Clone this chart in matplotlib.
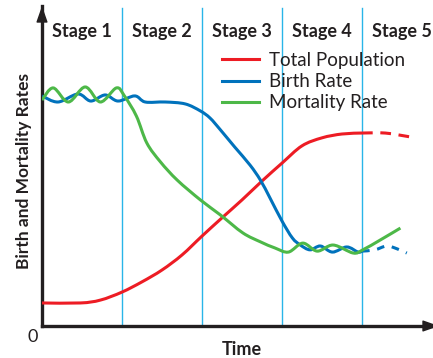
import numpy as np
import matplotlib
matplotlib.use("Agg")
import matplotlib.pyplot as plt
from matplotlib.path import Path
from matplotlib.patches import PathPatch
from matplotlib.lines import Line2D

# Demographic transition model (time in stage units, rates on a 0-100 scale)
stage_labels = ["Stage 1", "Stage 2", "Stage 3", "Stage 4", "Stage 5"]
stage_centers = [0.5, 1.5, 2.5, 3.5, 4.5]
stage_bounds = [1, 2, 3, 4]

pop_time = [0, 0.48, 0.73, 1.0, 1.25, 1.5, 1.75, 2.0, 2.25, 2.5, 2.75, 3.0, 3.25, 3.5, 3.75, 4.0]
pop_value = [7.2, 7.2, 8.1, 10.6, 13.8, 17.5, 22.2, 28.1, 33.8, 39.4, 45.3, 50.9, 56.3, 58.8, 60.0, 60.3]
pop_time_proj = [4.0, 4.29, 4.6]
pop_value_proj = [60.3, 60.3, 59.1]

birth_time = [0, 0.2, 0.45, 0.61, 0.79, 0.95, 1.16, 1.29, 1.54, 1.79, 1.98, 2.1, 2.23,
              2.41, 2.6, 2.73, 2.85, 3.0, 3.13, 3.23, 3.35, 3.48, 3.63, 3.81, 3.95, 4.0]
birth_value = [71.9, 70.0, 72.5, 70.3, 72.2, 70.3, 71.9, 70.0, 70.0, 69.4, 67.2, 65.0, 61.3,
               55.9, 50.3, 45.6, 40.0, 32.8, 27.5, 25.3, 23.8, 25.0, 23.1, 24.7, 23.1, 23.4]
birth_time_proj = [4.0, 4.16, 4.31, 4.44, 4.56]
birth_value_proj = [23.4, 23.8, 25.0, 24.1, 22.8]

death_time = [0, 0.14, 0.33, 0.54, 0.73, 0.93, 1.03, 1.18, 1.31, 1.48, 1.69, 1.98, 2.23,
              2.51, 2.73, 2.91, 3.08, 3.26, 3.44, 3.64, 3.89, 4.01, 4.23, 4.48]
death_value = [70.6, 74.4, 70.0, 74.7, 70.0, 74.4, 71.9, 65.6, 57.2, 51.3, 45.6, 39.4, 34.7,
               29.1, 26.3, 24.4, 23.1, 25.9, 23.4, 25.3, 22.8, 23.8, 26.9, 30.6]

RED = "#ED1C24"
BLUE = "#0072BC"
GREEN = "#4DB848"
CYAN = "#29B5E8"
INK = "#231F20"

plt.rcParams["font.family"] = ["Lato", "DejaVu Sans"]


def smooth_path(xs, ys):
    # Catmull-Rom through the points, written as cubic Bezier segments
    pts = np.column_stack([xs, ys]).astype(float)
    n = len(pts)
    verts = [pts[0]]
    codes = [Path.MOVETO]
    for i in range(n - 1):
        p0 = pts[max(i - 1, 0)]
        p1 = pts[i]
        p2 = pts[i + 1]
        p3 = pts[min(i + 2, n - 1)]
        verts += [p1 + (p2 - p0) / 6, p2 - (p3 - p1) / 6, p2]
        codes += [Path.CURVE4] * 3
    return Path(verts, codes)


def draw_curve(ax, xs, ys, color, dashes=None):
    patch = PathPatch(smooth_path(xs, ys), fill=False, edgecolor=color, lw=2.2,
                      joinstyle="round", capstyle="butt", zorder=3)
    if dashes is not None:
        patch.set_linestyle((0, dashes))
    ax.add_patch(patch)


fig = plt.figure(figsize=(4.33, 3.58), dpi=100)
ax = fig.add_axes([42 / 433, 32 / 358, (439 - 42) / 433, 320 / 358])
ax.set_xlim(0, (439 - 42) / 80)
ax.set_ylim(0, 100)
ax.set_xticks([])
ax.set_yticks([])
for side in ["top", "right"]:
    ax.spines[side].set_visible(False)
for side in ["left", "bottom"]:
    ax.spines[side].set_linewidth(2.4)
    ax.spines[side].set_color(INK)

# arrow heads on both axes
arrow = dict(arrowstyle="-|>,head_length=1.0,head_width=0.35", color=INK, lw=1,
             shrinkA=0, shrinkB=0, mutation_scale=10)
ax.annotate("", xy=(0, 1), xytext=(0, 0.95), xycoords="axes fraction", arrowprops=arrow)
ax.annotate("", xy=(1, 0), xytext=(0.95, 0), xycoords="axes fraction", arrowprops=arrow)

for b in stage_bounds:
    ax.axvline(b, ymin=0, ymax=0.995, color=CYAN, lw=1.0, zorder=1)

for x, label in zip(stage_centers, stage_labels):
    ax.text(x, 90.3, label, ha="center", va="baseline", fontsize=13,
            fontweight="bold", color=INK)

draw_curve(ax, pop_time, pop_value, RED)
draw_curve(ax, pop_time_proj, pop_value_proj, RED, dashes=(3.5, 2.5))
draw_curve(ax, birth_time, birth_value, BLUE)
draw_curve(ax, birth_time_proj, birth_value_proj, BLUE, dashes=(2.5, 2.5))
draw_curve(ax, death_time, death_value, GREEN)

handles = [Line2D([], [], color=c, lw=2.2) for c in (RED, BLUE, GREEN)]
ax.legend(handles, ["Total Population", "Birth Rate", "Mortality Rate"],
          loc="upper left", bbox_to_anchor=((222 - 42) / 397, (326 - 52) / 320),
          frameon=False, borderpad=0, borderaxespad=0, fontsize=13.5,
          handlelength=1.95, handletextpad=0.55, labelspacing=0.22, labelcolor=INK)

fig.text(24 / 433, 1 - 171 / 358, "Birth and Mortality Rates", rotation=90,
         ha="center", va="center", fontsize=12.5, fontweight="bold", color=INK)
fig.text(242 / 433, 1 - 355 / 358, "Time", ha="center", va="baseline",
         fontsize=13, fontweight="bold", color=INK)
fig.text(33 / 433, 1 - 342 / 358, "0", ha="center", va="baseline", fontsize=13, color=INK)

fig.savefig("out.png", dpi=100)
